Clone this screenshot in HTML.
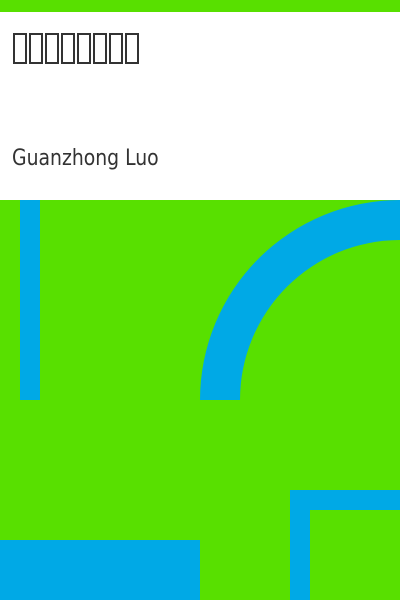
<!DOCTYPE html>
<html><head><meta charset="utf-8"><style>
html,body{margin:0;padding:0;}
body{width:400px;height:600px;position:relative;overflow:hidden;background:#58e000;font-family:"DejaVu Sans","Liberation Sans","Noto Sans CJK TC",sans-serif;}
.topbar{position:absolute;left:0;top:0;width:400px;height:12px;background:#58e000;}
.header{position:absolute;left:0;top:12px;width:400px;height:188px;background:#fff;}
.title{position:absolute;left:13px;top:21px;height:31px;white-space:nowrap;font-size:0;}
.title span{display:inline-block;width:10px;height:27px;border:2px solid #333;margin-right:2px;color:transparent;font-size:10px;line-height:27px;overflow:hidden;vertical-align:top;}
.author{position:absolute;left:12px;top:134px;font-size:22px;color:#333;transform:scaleX(0.855);transform-origin:0 0;white-space:nowrap;}
.b{position:absolute;background:#00a9e6;}
</style></head><body>
<div class="topbar"></div>
<div class="header">
<div class="title"><span>三</span><span>國</span><span>志</span><span>通</span><span>俗</span><span>演</span><span>義</span><span>全</span></div>
<div class="author">Guanzhong Luo</div>
</div>
<div class="b" style="left:20px;top:200px;width:20px;height:200px"></div>
<svg style="position:absolute;left:0;top:0" width="400" height="600">
<path d="M200,400 A200,200 0 0 1 400,200 L400,240 A160,160 0 0 0 240,400 Z" fill="#00a9e6"/>
</svg>
<div class="b" style="left:0;top:540px;width:200px;height:60px"></div>
<div class="b" style="left:290px;top:490px;width:110px;height:110px"></div>
<div style="position:absolute;left:310px;top:510px;width:90px;height:90px;background:#58e000"></div>
</body></html>
